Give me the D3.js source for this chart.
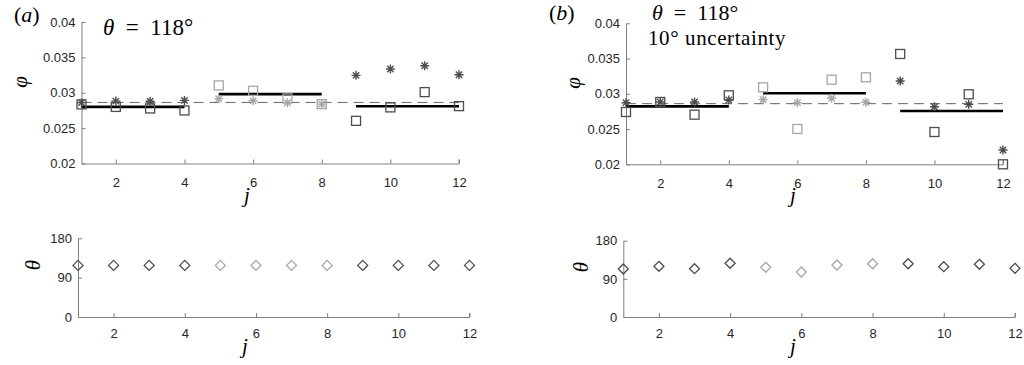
<!DOCTYPE html>
<html>
<head>
<meta charset="utf-8">
<script src="https://cdn.jsdelivr.net/npm/d3@7"></script>
<style>
  body { margin: 0; background: #fff; }
  svg { display: block; }
  .tick text { font-family: "Liberation Sans", Arial, sans-serif; font-size: 13px; fill: #262626; }
  .tick line, .domain { stroke: #808080; }
  .math { font-family: "Liberation Serif", "DejaVu Serif", serif; fill: #000; }
</style>
</head>
<body>
<div id="chart"></div>
<script>
// station index and the groups of stations
var jVals = [1, 2, 3, 4, 5, 6, 7, 8, 9, 10, 11, 12];
var group = ["d", "d", "d", "d", "l", "l", "l", "l", "d", "d", "d", "d"];
var segStart = [1, 5, 9];
var segEnd = [4, 8, 12];

// (a) theta = 118 exact
var phiSqA = [0.02835, 0.0280, 0.02778, 0.0275, 0.03104, 0.03028, 0.0292, 0.02839, 0.02603, 0.02793, 0.03009, 0.02811];
var phiStarA = [0.0286, 0.02882, 0.0288, 0.02892, 0.02914, 0.02886, 0.02858, 0.02839, 0.03246, 0.03335, 0.03382, 0.03254];
var segMeanA = [0.0280, 0.0298, 0.0281];
var meanA = 0.02863;
var thetaA = [118, 118, 118, 118, 118, 118, 118, 118, 118, 118, 118, 118];

// (b) with 10 degree uncertainty
var phiSqB = [0.02742, 0.02884, 0.02704, 0.02979, 0.03092, 0.02501, 0.0320, 0.03234, 0.03565, 0.02458, 0.02993, 0.0200];
var phiStarB = [0.02874, 0.02884, 0.02884, 0.02912, 0.02917, 0.02874, 0.02936, 0.0288, 0.03182, 0.02817, 0.02851, 0.02203];
var segMeanB = [0.02822, 0.03007, 0.02756];
var meanB = 0.0286;
var thetaB = [113.2, 119.6, 114, 126.7, 117.2, 106.2, 122.7, 125.7, 125.7, 118.7, 124.3, 114.9];

var phiTicks = [0.02, 0.025, 0.03, 0.035, 0.04];
var phiTickLabels = ["0.02", "0.025", "0.03", "0.035", "0.04"];
var thetaTicks = [0, 90, 180];
var jTicks = [2, 4, 6, 8, 10, 12];

var colDark = "#4d4d4d", colLight = "#a6a6a6";

var svg = d3.select("#chart").append("svg").attr("width", 1024).attr("height", 365);

function panel(box, yDomain, yTicks, yFmt, yPad, xPad) {
  var x = d3.scaleLinear().domain([1, 12]).range([box.x0, box.x1]);
  var y = d3.scaleLinear().domain(yDomain).range([box.y0, box.y1]);
  var g = svg.append("g");
  g.append("g").attr("transform", "translate(0," + box.y0 + ")")
    .call(d3.axisBottom(x).tickValues(jTicks).tickSizeInner(-4).tickSizeOuter(0).tickPadding(xPad));
  g.append("g").attr("transform", "translate(" + box.x0 + ",0)")
    .call(d3.axisLeft(y).tickValues(yTicks).tickFormat(yFmt).tickSizeInner(-4).tickSizeOuter(0).tickPadding(yPad));
  // MATLAB also puts a tick at the right end of the x axis
  g.append("line").attr("x1", x(12)).attr("x2", x(12)).attr("y1", box.y0).attr("y2", box.y0 - 4).attr("stroke", "#808080");
  return {g: g, x: x, y: y};
}

function squares(p, vals) {
  p.g.selectAll(null).data(vals).enter().append("rect")
    .attr("x", function(d, i) { return p.x(jVals[i]) - 4.5; })
    .attr("y", function(d) { return p.y(d) - 4.5; })
    .attr("width", 9).attr("height", 9)
    .attr("fill", "none").attr("stroke-width", 1.3)
    .attr("stroke", function(d, i) { return group[i] == "d" ? colDark : colLight; });
}

function stars(p, vals) {
  var r = 4.5, s = r * 0.707;
  var path = "M" + (-r) + ",0L" + r + ",0M0," + (-r) + "L0," + r +
    "M" + (-s) + "," + (-s) + "L" + s + "," + s + "M" + (-s) + "," + s + "L" + s + "," + (-s);
  p.g.selectAll(null).data(vals).enter().append("path")
    .attr("transform", function(d, i) { return "translate(" + p.x(jVals[i]) + "," + p.y(d) + ")"; })
    .attr("d", path).attr("fill", "none").attr("stroke-width", 1.4)
    .attr("stroke", function(d, i) { return group[i] == "d" ? colDark : colLight; });
}

function diamonds(p, vals) {
  p.g.selectAll(null).data(vals).enter().append("path")
    .attr("transform", function(d, i) { return "translate(" + p.x(jVals[i]) + "," + p.y(d) + ")"; })
    .attr("d", "M0,-5L5,0L0,5L-5,0Z").attr("fill", "none").attr("stroke-width", 1.3)
    .attr("stroke", function(d, i) { return group[i] == "d" ? colDark : colLight; });
}

function meanLines(p, segMeans, mean) {
  p.g.append("line").attr("x1", p.x(1)).attr("x2", p.x(12))
    .attr("y1", p.y(mean)).attr("y2", p.y(mean))
    .attr("stroke", "#666").attr("stroke-width", 1).attr("stroke-dasharray", "10,6");
  p.g.selectAll(null).data(segMeans).enter().append("line")
    .attr("x1", function(d, i) { return p.x(segStart[i]); })
    .attr("x2", function(d, i) { return p.x(segEnd[i]); })
    .attr("y1", function(d) { return p.y(d); })
    .attr("y2", function(d) { return p.y(d); })
    .attr("stroke", "#000").attr("stroke-width", 2.6);
}

function mathText(x, y, txt, size, rotate, italic) {
  var t = svg.append("text").attr("class", "math").attr("font-size", size)
    .attr("text-anchor", "middle").text(txt);
  if (italic) t.attr("font-style", "italic");
  if (rotate) t.attr("transform", "translate(" + x + "," + y + ") rotate(-90)");
  else t.attr("x", x).attr("y", y);
  return t;
}

var phiFmt = function(d, i) { return phiTickLabels[i]; };
var thFmt = d3.format("d");

// top panels
var pA = panel({x0: 81.5, x1: 459, y0: 163.5, y1: 22}, [0.02, 0.04], phiTicks, phiFmt, 6, 14);
meanLines(pA, segMeanA, meanA);
squares(pA, phiSqA);
stars(pA, phiStarA);

var pB = panel({x0: 626, x1: 1003, y0: 164.3, y1: 23.3}, [0.02, 0.04], phiTicks, phiFmt, 6, 14);
meanLines(pB, segMeanB, meanB);
squares(pB, phiSqB);
stars(pB, phiStarB);

// bottom panels
var tA = panel({x0: 78, x1: 469.5, y0: 317, y1: 238.3}, [0, 180], thetaTicks, thFmt, 6, 12);
diamonds(tA, thetaA);
var tB = panel({x0: 623.3, x1: 1015, y0: 317, y1: 240.7}, [0, 180], thetaTicks, thFmt, 6, 12);
diamonds(tB, thetaB);

// labels
svg.append("text").attr("class", "math").attr("x", 14).attr("y", 22).attr("font-size", 22)
  .html('(<tspan font-style="italic">a</tspan>)');
svg.append("text").attr("class", "math").attr("x", 549).attr("y", 20).attr("font-size", 22)
  .html('(<tspan font-style="italic">b</tspan>)');
svg.append("text").attr("class", "math").attr("x", 103).attr("y", 35).attr("font-size", 23)
  .html('<tspan font-style="italic">θ</tspan>\u2002=\u2002118°');
svg.append("text").attr("class", "math").attr("x", 652).attr("y", 20).attr("font-size", 22)
  .html('<tspan font-style="italic">θ</tspan>\u2002=\u2002118°');
svg.append("text").attr("class", "math").attr("x", 648).attr("y", 45).attr("font-size", 21)
  .attr("letter-spacing", 0.6).text("10° uncertainty");

mathText(27, 82, "φ", 21, true, true);
mathText(580, 83, "φ", 21, true, true);
mathText(40, 265, "θ", 21, true, true);
mathText(588, 267, "θ", 21, true, true);
mathText(247, 202, "j", 21, false, true);
mathText(793, 202, "j", 21, false, true);
mathText(245, 353, "j", 21, false, true);
mathText(793, 353, "j", 21, false, true);
</script>
</body>
</html>
